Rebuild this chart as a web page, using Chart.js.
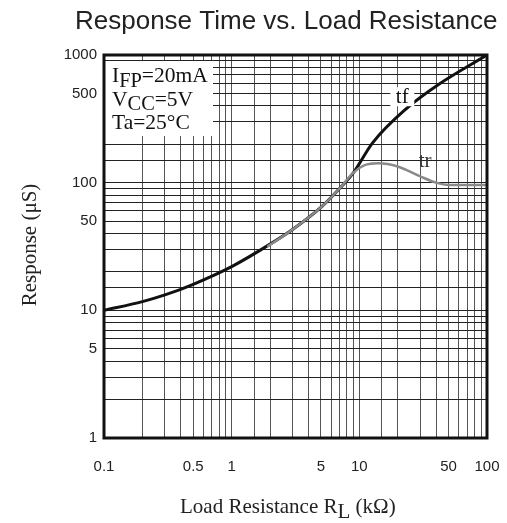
<!DOCTYPE html>
<html>
<head>
<meta charset="utf-8">
<script src="https://cdn.jsdelivr.net/npm/chart.js@4/dist/chart.umd.min.js"></script>
<style>
  html, body { margin: 0; padding: 0; background: #fff; }
  canvas { display: block; }
</style>
</head>
<body>
<canvas id="chart" width="507" height="523"></canvas>
<script>
// tick labels shown on the log axes
const xTickLabels = [0.1, 0.5, 1, 5, 10, 50, 100];
const yTickLabels = [1, 5, 10, 50, 100, 500, 1000];

// tf (fall time)
const tfX = [0.1, 0.2, 0.3, 0.5, 1, 2, 3, 5, 7, 9, 12.7, 23, 42, 100];
const tfY = [10, 11.7, 13.2, 16, 22, 33, 43, 64, 90, 120, 205, 375, 590, 1000];

// tr (rise time)
const trX = [1.9, 3, 5, 7, 9, 11, 14, 20, 30, 40, 50, 100];
const trY = [31.5, 43, 64, 90, 120, 137, 142, 134, 112, 100, 96, 96];

// test conditions: [main, subscript, rest]
const conditions = [
    ['I', 'FP', '=20mA'],
    ['V', 'CC', '=5V'],
    ['Ta=25°C', '', '']
];

const SANS = '"Liberation Sans", Arial, sans-serif';
const SERIF = '"Liberation Serif", "Times New Roman", serif';

function pickLabel(list) {
    return function (value) {
        const hit = list.find(t => Math.abs(t - value) / t < 1e-6);
        return hit === undefined ? '' : String(hit);
    };
}

function toPoints(xs, ys) {
    return xs.map((x, i) => ({ x: x, y: ys[i] }));
}

// draws "main" + lowered "sub" + "rest" starting at x, returns end x
function drawSubText(ctx, x, y, parts, size, subScale) {
    ctx.font = size + 'px ' + SERIF;
    ctx.fillText(parts[0], x, y);
    x += ctx.measureText(parts[0]).width;
    if (parts[1]) {
        ctx.font = (size * subScale) + 'px ' + SERIF;
        ctx.fillText(parts[1], x, y + size * 0.22);
        x += ctx.measureText(parts[1]).width;
        ctx.font = size + 'px ' + SERIF;
    }
    if (parts[2]) {
        ctx.fillText(parts[2], x, y);
        x += ctx.measureText(parts[2]).width;
    }
    return x;
}

const decorations = {
    id: 'decorations',
    beforeDatasetsDraw(chart) {
        const ctx = chart.ctx;
        const a = chart.chartArea;
        // white box behind the conditions
        ctx.save();
        ctx.fillStyle = '#fff';
        ctx.fillRect(a.left + 1, a.top + 6, 108, 75);
        ctx.fillStyle = '#111';
        ctx.textBaseline = 'alphabetic';
        conditions.forEach((c, i) => {
            drawSubText(ctx, a.left + 8, a.top + 27 + i * 23.5, c, 21.5, 0.95);
        });
        ctx.restore();
    },
    afterDatasetsDraw(chart) {
        const ctx = chart.ctx;
        const a = chart.chartArea;
        const xs = chart.scales.x, ys = chart.scales.y;
        ctx.save();
        // curve labels
        ctx.font = '21px ' + SERIF;
        ctx.textAlign = 'center';
        ctx.textBaseline = 'middle';
        let px = xs.getPixelForValue(21.7), py = ys.getPixelForValue(467);
        ctx.fillStyle = '#fff';
        ctx.fillRect(px - 12, py - 10, 24, 19);
        ctx.fillStyle = '#111';
        ctx.fillText('tf', px, py);
        px = xs.getPixelForValue(32.8);
        py = ys.getPixelForValue(146);
        ctx.fillStyle = '#333';
        ctx.fillText('tr', px, py);

        // heavy frame
        ctx.strokeStyle = '#111';
        ctx.lineWidth = 3;
        ctx.strokeRect(a.left, a.top, a.right - a.left, a.bottom - a.top);
        ctx.restore();
    },
    afterDraw(chart) {
        const ctx = chart.ctx;
        ctx.save();
        ctx.fillStyle = '#222';
        ctx.textBaseline = 'alphabetic';
        // title
        ctx.font = '26px ' + SANS;
        ctx.textAlign = 'left';
        ctx.fillText('Response Time vs. Load Resistance', 75, 29);

        // x axis title with subscript
        drawSubText(ctx, 180, 513, ['Load Resistance R', 'L', ' (kΩ)'], 21, 1);

        // y axis title
        ctx.translate(30, 245);
        ctx.rotate(-Math.PI / 2);
        ctx.textAlign = 'center';
        ctx.textBaseline = 'middle';
        ctx.font = '21px ' + SERIF;
        ctx.fillText('Response (μS)', 0, 0);
        ctx.restore();
    }
};

const ctx = document.getElementById('chart').getContext('2d');
const chart = new Chart(ctx, {
    type: 'line',
    data: {
        datasets: [
            {
                label: 'tr',
                data: toPoints(trX, trY),
                borderColor: '#8a8a8a',
                borderWidth: 2.5,
                pointRadius: 0,
                fill: false,
                cubicInterpolationMode: 'monotone',
                order: 0
            },
            {
                label: 'tf',
                data: toPoints(tfX, tfY),
                borderColor: '#111',
                borderWidth: 3,
                pointRadius: 0,
                fill: false,
                cubicInterpolationMode: 'monotone',
                order: 1
            }
        ]
    },
    options: {
        responsive: false,
        animation: false,
        layout: { padding: { top: 55, right: 20, left: 0, bottom: 0 } },
        plugins: {
            legend: { display: false },
            title: { display: false },
            tooltip: { enabled: false }
        },
        scales: {
            x: {
                type: 'logarithmic',
                min: 0.1,
                max: 100,
                border: { display: false },
                grid: { color: '#555', lineWidth: 1, drawTicks: false },
                ticks: {
                    autoSkip: false,
                    maxRotation: 0,
                    padding: 20,
                    color: '#222',
                    font: { family: SANS, size: 15 },
                    callback: pickLabel(xTickLabels)
                },
                afterFit: function (scale) {
                    scale.height = 85;
                    scale.paddingLeft = 0;
                    scale.paddingRight = 0;
                }
            },
            y: {
                type: 'logarithmic',
                min: 1,
                max: 1000,
                border: { display: false },
                grid: { color: '#222', lineWidth: 1, drawTicks: false },
                ticks: {
                    autoSkip: false,
                    padding: 7,
                    color: '#222',
                    font: { family: SANS, size: 15 },
                    callback: pickLabel(yTickLabels)
                },
                afterFit: function (scale) {
                    scale.width = 104;
                    scale.paddingTop = 0;
                    scale.paddingBottom = 0;
                }
            }
        }
    },
    plugins: [decorations]
});
</script>
</body>
</html>
